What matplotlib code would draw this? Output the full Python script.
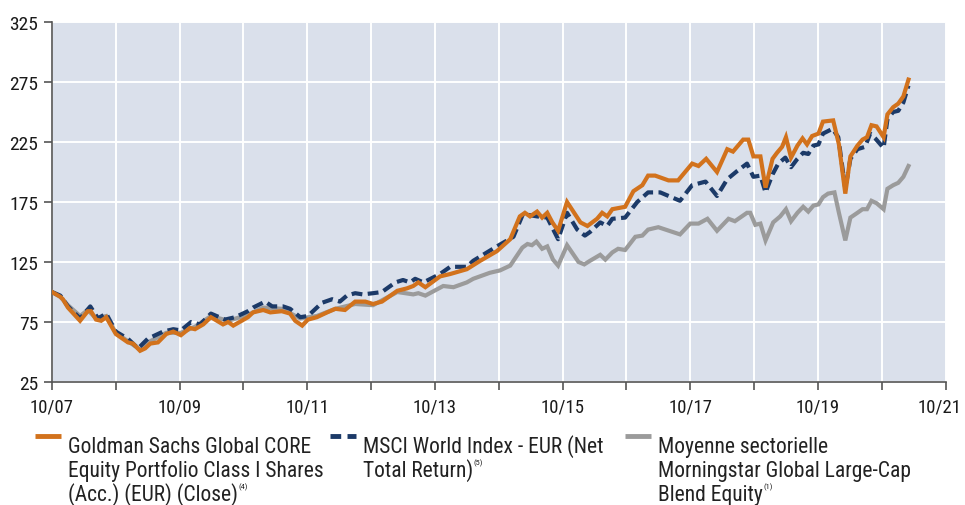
import matplotlib
matplotlib.use("Agg")
import matplotlib.pyplot as plt
from matplotlib import font_manager
from matplotlib.lines import Line2D
from matplotlib.transforms import ScaledTranslation
import numpy as np

# narrow face if one is installed, DejaVu as fallback
installed = {f.name for f in font_manager.fontManager.ttflist}
narrow = [n for n in ['Liberation Sans Narrow', 'Roboto Condensed', 'DejaVu Sans Condensed',
                      'Open Sans Condensed', 'Roboto'] if n in installed]
plt.rcParams['font.family'] = narrow[:1] + ['DejaVu Sans']

# --- data (dates as decimal years) ---
gs_t = [2007.75, 2007.88, 2007.92, 2008.00, 2008.19, 2008.31, 2008.36, 2008.44, 2008.52, 2008.60,
        2008.75, 2008.94, 2009.02, 2009.13, 2009.21, 2009.29, 2009.41, 2009.54, 2009.65, 2009.77,
        2009.91, 2009.99, 2010.12, 2010.24, 2010.43, 2010.51, 2010.59, 2010.82, 2010.90, 2011.06,
        2011.17, 2011.35, 2011.48, 2011.56, 2011.67, 2011.76, 2011.90, 2012.06, 2012.19, 2012.34,
        2012.50, 2012.66, 2012.78, 2012.92, 2013.16, 2013.31, 2013.41, 2013.49, 2013.60, 2013.83,
        2013.99, 2014.25, 2014.46, 2014.72, 2014.93, 2015.08, 2015.16, 2015.24, 2015.35, 2015.43,
        2015.51, 2015.59, 2015.68, 2015.82, 2016.03, 2016.14, 2016.29, 2016.37, 2016.45, 2016.53,
        2016.73, 2016.86, 2017.00, 2017.09, 2017.20, 2017.41, 2017.56, 2017.78, 2017.88, 2018.00,
        2018.17, 2018.33, 2018.42, 2018.58, 2018.66, 2018.74, 2018.85, 2018.93, 2019.04, 2019.11,
        2019.19, 2019.25, 2019.33, 2019.43, 2019.51, 2019.58, 2019.66, 2019.76, 2019.83, 2019.99,
        2020.08, 2020.18, 2020.26, 2020.37, 2020.45, 2020.52, 2020.59, 2020.67, 2020.78, 2020.84,
        2020.93, 2021.01, 2021.09, 2021.17]
gs_v = [100, 96, 94, 87, 76, 84, 84, 77, 76, 79,
        65, 58, 57, 51, 53, 57, 58, 65, 67, 64,
        70, 69, 73, 79, 73, 75, 72, 79, 83, 85,
        83, 84, 82, 76, 72, 77, 79, 83, 86, 85,
        92, 92, 90, 92, 101, 103, 105, 108, 104, 113,
        115, 119, 126, 134, 144, 163, 166, 163, 167, 162,
        166, 158, 151, 175, 158, 155, 161, 166, 163, 169,
        171, 184, 189, 197, 197, 193, 193, 207, 205, 211,
        200, 219, 217, 227, 227, 213, 213, 187, 211, 216,
        221, 229, 212, 222, 228, 223, 230, 232, 242, 243,
        223, 182, 213, 222, 227, 229, 239, 238, 229, 248,
        254, 257, 263, 277]

msci_t = [2007.75, 2007.88, 2008.00, 2008.19, 2008.35, 2008.47, 2008.60, 2008.75, 2008.94, 2009.10,
          2009.25, 2009.49, 2009.65, 2009.77, 2009.93, 2010.07, 2010.24, 2010.46, 2010.62, 2010.82,
          2010.90, 2011.09, 2011.20, 2011.37, 2011.48, 2011.64, 2011.76, 2011.98, 2012.14, 2012.26,
          2012.37, 2012.50, 2012.62, 2012.78, 2012.92, 2013.13, 2013.25, 2013.36, 2013.44, 2013.57,
          2013.83, 2013.99, 2014.25, 2014.35, 2014.72, 2014.98, 2015.13, 2015.35, 2015.51, 2015.68,
          2015.82, 2015.98, 2016.10, 2016.18, 2016.34, 2016.45, 2016.53, 2016.73, 2016.92, 2017.09,
          2017.28, 2017.59, 2017.78, 2017.99, 2018.17, 2018.33, 2018.49, 2018.64, 2018.74, 2018.85,
          2018.93, 2019.04, 2019.13, 2019.24, 2019.33, 2019.43, 2019.52, 2019.60, 2019.68, 2019.76,
          2019.83, 2019.98, 2020.07, 2020.18, 2020.26, 2020.37, 2020.49, 2020.57, 2020.65, 2020.78,
          2020.84, 2020.93, 2021.01, 2021.09, 2021.17]
msci_v = [100, 97, 88, 78, 88, 78, 82, 67, 61, 53,
          61, 67, 69, 68, 75, 73, 82, 77, 79, 84,
          87, 92, 88, 88, 86, 79, 80, 91, 94, 92,
          97, 99, 98, 99, 100, 108, 110, 108, 111, 108,
          115, 121, 121, 126, 138, 146, 165, 163, 162, 144,
          166, 152, 147, 150, 158, 155, 161, 162, 175, 183,
          183, 176, 189, 192, 180, 194, 201, 207, 196, 197,
          183, 198, 207, 212, 204, 211, 216, 215, 222, 223,
          232, 236, 229, 186, 211, 219, 221, 232, 228, 220,
          244, 250, 251, 258, 272]

peer_t = [2007.75, 2007.88, 2008.00, 2008.19, 2008.31, 2008.44, 2008.60, 2008.75, 2008.94, 2009.13,
          2009.29, 2009.54, 2009.77, 2009.99, 2010.24, 2010.51, 2010.82, 2011.06, 2011.35, 2011.64,
          2011.90, 2012.19, 2012.50, 2012.78, 2013.16, 2013.41, 2013.49, 2013.60, 2013.88, 2014.04,
          2014.25, 2014.35, 2014.61, 2014.77, 2014.93, 2015.12, 2015.20, 2015.27, 2015.34, 2015.43,
          2015.51, 2015.60, 2015.68, 2015.82, 2016.00, 2016.09, 2016.18, 2016.34, 2016.42, 2016.53,
          2016.62, 2016.73, 2016.89, 2017.00, 2017.09, 2017.25, 2017.59, 2017.75, 2017.88, 2018.02,
          2018.17, 2018.35, 2018.45, 2018.64, 2018.69, 2018.77, 2018.85, 2018.93, 2019.05, 2019.16,
          2019.25, 2019.33, 2019.43, 2019.52, 2019.60, 2019.68, 2019.76, 2019.83, 2019.91, 2020.01,
          2020.08, 2020.18, 2020.26, 2020.37, 2020.45, 2020.52, 2020.59, 2020.67, 2020.78, 2020.84,
          2020.93, 2021.01, 2021.09, 2021.17]
peer_v = [100, 96, 89, 80, 85, 78, 80, 66, 59, 52,
          59, 66, 66, 71, 80, 76, 81, 87, 86, 78,
          80, 86, 90, 89, 100, 98, 99, 97, 105, 104,
          108, 111, 116, 118, 122, 137, 140, 139, 142, 136,
          138, 127, 122, 139, 125, 123, 126, 131, 127, 133,
          136, 135, 146, 147, 152, 154, 148, 157, 157, 161,
          151, 161, 159, 166, 166, 156, 157, 143, 158, 163,
          169, 159, 166, 171, 167, 172, 173, 179, 182, 183,
          166, 143, 162, 166, 169, 169, 176, 174, 169, 186,
          189, 191, 196, 205]

x_ticks = [2007.75, 2009.75, 2011.75, 2013.75, 2015.75, 2017.75, 2019.75, 2021.75]
x_labels = ['10/07', '10/09', '10/11', '10/13', '10/15', '10/17', '10/19', '10/21']
y_ticks = [25, 75, 125, 175, 225, 275, 325]

labels = [
    ['Goldman Sachs Global CORE', 'Equity Portfolio Class I Shares', '(Acc.) (EUR) (Close)'],
    ['MSCI World Index - EUR (Net', 'Total Return)'],
    ['Moyenne sectorielle', 'Morningstar Global Large-Cap', 'Blend Equity'],
]
notes = ['(4)', '(5)', '(1)']

ORANGE = '#d2721c'
NAVY = '#1c3a68'
GREY = '#9b9b9b'

W, H = 965, 506
fig = plt.figure(figsize=(W / 100, H / 100), dpi=100)
ax = fig.add_axes([52 / W, 1 - 383 / H, (945.5 - 52) / W, (383 - 23) / H])
ax.set_facecolor('#dae0eb')

ax.plot(peer_t, peer_v, color=GREY, lw=3.0, solid_joinstyle='miter', zorder=3)
ax.plot(msci_t, msci_v, color=NAVY, lw=3.0, dashes=(2.6, 1.3), dash_capstyle='butt', zorder=4)
ax.plot(gs_t, gs_v, color=ORANGE, lw=3.0, solid_joinstyle='miter', zorder=5)

ax.set_xlim(2007.75, 2021.75)
ax.set_ylim(25, 325)
ax.set_xticks(x_ticks)
ax.set_xticklabels(x_labels)
ax.set_xticks(np.arange(2008.75, 2021, 2), minor=True)
ax.set_yticks(y_ticks)

ax.grid(True, which='both', color='white', lw=1.4, zorder=1)
ax.set_axisbelow(True)
for s in ['top', 'right']:
    ax.spines[s].set_visible(False)
for s in ['left', 'bottom']:
    ax.spines[s].set_color('#555555')
    ax.spines[s].set_linewidth(1.2)
ax.tick_params(axis='both', which='both', direction='out', length=6, width=1.2,
               color='#555555', labelsize=14, labelcolor='#1a1a1a')
ax.tick_params(axis='x', pad=5, labelsize=13.5)
ax.tick_params(axis='y', pad=4)

# nudge the last date label so it stays inside the canvas
last_lab = ax.get_xticklabels()[-1]
last_lab.set_transform(last_lab.get_transform()
                       + ScaledTranslation(-4 / 72, 0, fig.dpi_scale_trans))

# legend drawn by hand under the plot
handle_x = [35, 330, 625]
styles = [dict(color=ORANGE), dict(color=NAVY, dashes=(2.2, 1.3)), dict(color=GREY)]
fig.canvas.draw()
renderer = fig.canvas.get_renderer()
for hx, st, lines, note in zip(handle_x, styles, labels, notes):
    fig.add_artist(Line2D([hx / W, (hx + 26) / W], [1 - 437 / H, 1 - 437 / H],
                          transform=fig.transFigure, lw=3.5, solid_capstyle='butt',
                          dash_capstyle='butt', **st))
    last = None
    for k, line in enumerate(lines):
        last = fig.text((hx + 33) / W, 1 - (453 + 24 * k) / H, line, fontsize=15.5,
                        color='#222222', va='baseline', ha='left')
    bb = last.get_window_extent(renderer)
    fig.text(bb.x1 / W + 0.5 / W, 1 - (453 + 24 * (len(lines) - 1) - 12) / H, note,
             fontsize=6, color='#222222', va='baseline', ha='left')

fig.savefig('out.png', dpi=100)
